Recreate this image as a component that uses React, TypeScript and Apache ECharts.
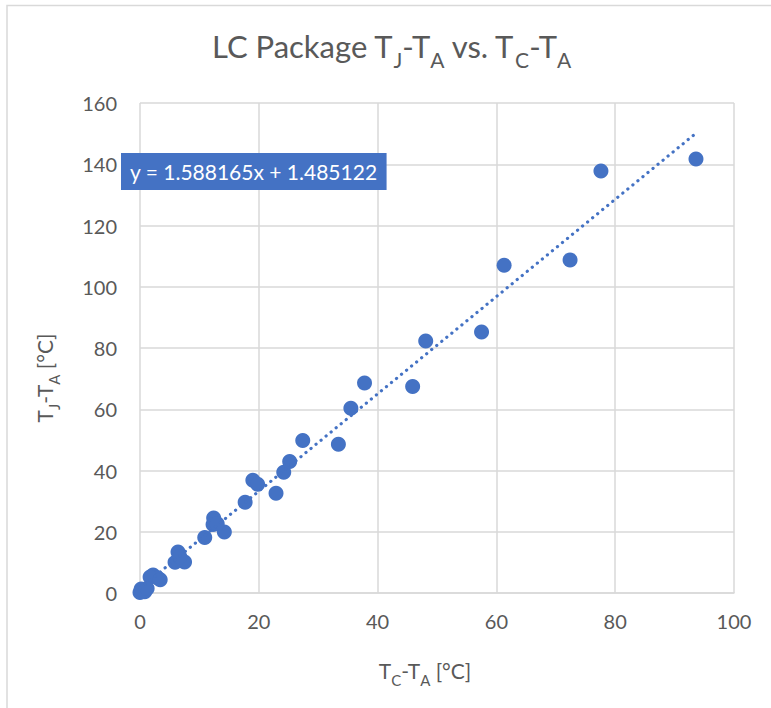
import React, { useEffect, useRef } from "react";
import * as echarts from "echarts";

const xValues = [93.6, 77.6, 72.4, 61.3, 57.5, 48.1, 45.9, 37.8, 35.5, 33.4, 27.4, 25.2, 24.2, 22.9, 19.0, 19.8, 17.7, 14.2, 12.4, 12.3, 13.0, 10.9, 6.4, 7.5, 5.9, 6.7, 2.2, 3.0, 1.7, 3.4, 0.2, 0.8, 0.0, 1.2];
const yValues = [141.7, 137.8, 108.7, 107.0, 85.2, 82.3, 67.4, 68.6, 60.3, 48.6, 49.8, 42.9, 39.4, 32.6, 36.8, 35.5, 29.6, 19.9, 24.5, 22.4, 22.6, 18.1, 13.4, 10.1, 10.0, 11.8, 5.9, 4.9, 5.2, 4.3, 1.3, 0.4, 0.2, 1.5];
const trendSlope = 1.588165;
const trendIntercept = 1.485122;
const xTicks = [0, 20, 40, 60, 80, 100];
const yTicks = [0, 20, 40, 60, 80, 100, 120, 140, 160];

const BLUE = "#4472C4";
const GRAY = "#595959";
const FONT = "Lato";

export default function App() {
  const ref = useRef<HTMLDivElement>(null);
  useEffect(() => {
    if (!ref.current) return;
    const chart = echarts.init(ref.current, undefined, { renderer: "svg" });
    const points = xValues.map((x, i) => [x, yValues[i]]);
    const xMin = Math.min(...xValues);
    const xMax = Math.max(...xValues);
    const trend = [
      [xMin, trendSlope * xMin + trendIntercept],
      [xMax, trendSlope * xMax + trendIntercept],
    ];
    const subTitle = { fontSize: 21, lineHeight: 48, verticalAlign: "bottom", color: GRAY, fontFamily: FONT };
    const subAxis = { fontSize: 15, lineHeight: 34, verticalAlign: "bottom", color: GRAY, fontFamily: FONT };
    chart.setOption({
      animation: false,
      backgroundColor: "#fff",
      title: {
        text: "LC Package T{s|J}-T{s|A} vs. T{s|C}-T{s|A}",
        left: 212,
        top: 22,
        padding: 0,
        textStyle: {
          fontSize: 31,
          fontWeight: "normal",
          color: GRAY,
          fontFamily: FONT,
          lineHeight: 31,
          rich: { s: subTitle },
        },
      },
      grid: { left: 140, top: 103, width: 594, height: 490, containLabel: false },
      xAxis: {
        type: "value",
        min: xTicks[0],
        max: xTicks[xTicks.length - 1],
        interval: xTicks[1] - xTicks[0],
        axisLine: { show: true, lineStyle: { color: "#d9d9d9", width: 1.5 } },
        axisTick: { show: false },
        splitLine: { show: true, lineStyle: { color: "#d9d9d9", width: 1.5 } },
        axisLabel: { color: GRAY, fontSize: 20, fontFamily: FONT, margin: 18 },
      },
      yAxis: {
        type: "value",
        min: yTicks[0],
        max: yTicks[yTicks.length - 1],
        interval: yTicks[1] - yTicks[0],
        axisLine: { show: false },
        axisTick: { show: false },
        splitLine: { show: true, lineStyle: { color: "#d9d9d9", width: 1.5 } },
        axisLabel: { color: GRAY, fontSize: 20, fontFamily: FONT, margin: 23 },
      },
      graphic: [
        {
          type: "rect",
          silent: true,
          shape: { x: 7, y: 5.5, width: 900, height: 900 },
          style: { fill: "none", stroke: "#d9d9d9", lineWidth: 1.5 },
        },
        {
          type: "text",
          left: 121,
          top: 153,
          z: 100,
          style: {
            text: "y = 1.588165x + 1.485122",
            fill: "#fff",
            fontSize: 21,
            fontFamily: FONT,
            backgroundColor: BLUE,
            padding: [8, 9, 8, 9],
          },
        },
        {
          type: "text",
          x: 425,
          y: 670,
          style: {
            text: "T{s|C}-T{s|A} [°C]",
            fill: GRAY,
            fontSize: 21,
            fontFamily: FONT,
            lineHeight: 21,
            align: "center",
            verticalAlign: "middle",
            rich: { s: subAxis },
          },
        },
        {
          type: "text",
          x: 44,
          y: 378,
          rotation: Math.PI / 2,
          style: {
            text: "T{s|J}-T{s|A} [°C]",
            fill: GRAY,
            fontSize: 21,
            fontFamily: FONT,
            lineHeight: 21,
            align: "center",
            verticalAlign: "middle",
            rich: { s: subAxis },
          },
        },
      ],
      series: [
        {
          type: "line",
          data: trend,
          showSymbol: false,
          symbol: "none",
          z: 3,
          lineStyle: { color: BLUE, width: 3.2, type: [0.1, 6.4], cap: "round" },
        },
        {
          type: "scatter",
          data: points,
          symbolSize: 15,
          z: 2,
          itemStyle: { color: BLUE, opacity: 1 },
        },
      ],
    });
    return () => chart.dispose();
  }, []);
  return <div ref={ref} style={{ position: "fixed", left: 0, top: 0, width: 771, height: 708 }} />;
}
